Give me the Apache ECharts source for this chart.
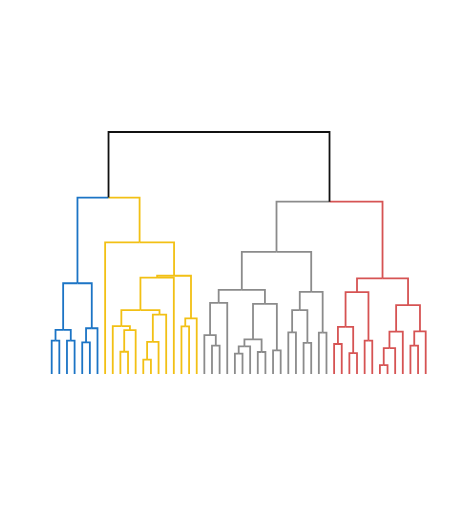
<!DOCTYPE html>
<html>
<head>
<meta charset="utf-8">
<script src="https://cdn.jsdelivr.net/npm/echarts@6/dist/echarts.min.js"></script>
<style>
  html, body { margin: 0; padding: 0; background: #fff; }
  #main { width: 450px; height: 520px; }
</style>
</head>
<body>
<div id="main"></div>
<script>
// 叶子数量 (leaves 0..49)
const leafCount = 50;
// 合并步骤: 节点 id = 50 + 下标
const mergeA = [0, 2, 50, 4, 53, 52, 9, 56, 8, 12, 59, 60, 58, 62, 17, 64, 63, 7, 55,
  21, 20, 70, 24, 72, 27, 73, 29, 75, 71, 31, 33, 79, 35, 81, 78,
  37, 39, 85, 41, 87, 43, 90, 91, 47, 93, 92, 89, 84, 68];
const mergeB = [1, 3, 51, 5, 6, 54, 10, 11, 57, 13, 14, 15, 61, 16, 18, 19, 65, 66, 67,
  22, 69, 23, 25, 26, 28, 74, 30, 76, 77, 32, 34, 80, 36, 82, 83,
  38, 40, 86, 42, 88, 44, 45, 46, 48, 49, 94, 95, 96, 97];
const mergeHeight = [1.38, 1.38, 1.82, 1.31, 1.89, 3.75, 0.92, 1.81, 1.98, 0.59, 1.33, 2.45, 2.64, 3.98, 1.97, 2.30, 4.06, 5.44, 7.29,
  1.17, 1.61, 2.94, 0.84, 1.14, 0.91, 1.43, 0.98, 2.90, 3.48, 1.72, 1.29, 2.64, 1.71, 3.39, 5.05,
  1.24, 0.86, 1.95, 1.38, 3.38, 0.37, 1.07, 1.75, 1.17, 1.76, 2.85, 3.95, 7.12, 10.0];
// 四个簇的根节点和颜色
const clusterRoots = [55, 67, 84, 96];
const clusterColors = ['#1b74c5', '#f2c014', '#8b8b8b', '#d65353'];
const topColor = '#111111';

// 计算节点位置
const nodeX = [];
const nodeH = [];
const parent = [];
for (let i = 0; i < leafCount; i++) {
  nodeX[i] = i;
  nodeH[i] = 0;
}
mergeA.forEach((a, k) => {
  const id = leafCount + k;
  const b = mergeB[k];
  nodeX[id] = (nodeX[a] + nodeX[b]) / 2;
  nodeH[id] = mergeHeight[k];
  parent[a] = id;
  parent[b] = id;
});

function colorOf(id) {
  while (id !== undefined) {
    const c = clusterRoots.indexOf(id);
    if (c >= 0) return clusterColors[c];
    id = parent[id];
  }
  return topColor;
}

// 每条连线: 子节点 -> 父节点
const links = [];
const linkColors = [];
for (let id = 0; id < nodeX.length; id++) {
  const p = parent[id];
  if (p === undefined) continue;
  links.push([nodeX[id], nodeH[id], nodeX[p], nodeH[p]]);
  linkColors.push(colorOf(id));
}

const chart = echarts.init(document.getElementById('main'));
chart.setOption({
  backgroundColor: '#fff',
  animation: false,
  grid: { left: 51.7, right: 24.3, top: 132, bottom: 146 },
  xAxis: { type: 'value', min: 0, max: leafCount - 1, show: false },
  yAxis: { type: 'value', min: 0, max: 10, show: false },
  series: [{
    type: 'custom',
    coordinateSystem: 'cartesian2d',
    clip: false,
    data: links,
    renderItem: function (params, api) {
      const p0 = api.coord([api.value(0), api.value(1)]);
      const p1 = api.coord([api.value(0), api.value(3)]);
      const p2 = api.coord([api.value(2), api.value(3)]);
      return {
        type: 'polyline',
        shape: { points: [p0, p1, p2] },
        style: {
          stroke: linkColors[params.dataIndex],
          lineWidth: 1.8,
          fill: null,
          lineJoin: 'miter'
        }
      };
    }
  }]
});
window.addEventListener('resize', chart.resize);
</script>
</body>
</html>
